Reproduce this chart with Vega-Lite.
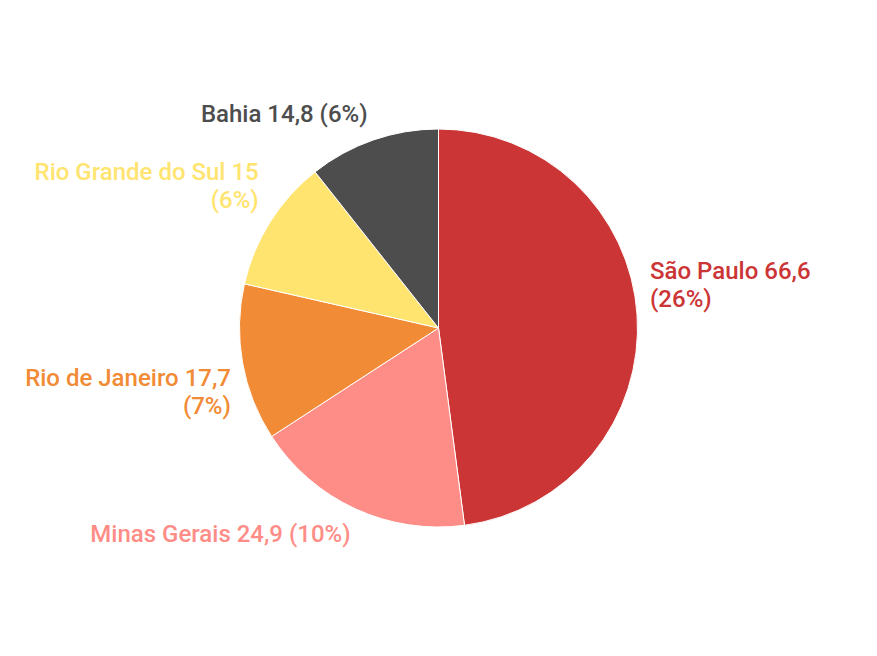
{
  "$schema": "https://vega.github.io/schema/vega-lite/v6.json",
  "width": 877,
  "height": 656,
  "autosize": {"type": "fit", "contains": "padding"},
  "padding": 0,
  "background": "white",
  "config": {"view": {"stroke": null}, "font": "Roboto", "text": {"fontSize": 24, "fontWeight": 500, "lineBreak": "\n", "lineHeight": 28, "baseline": "middle"}},
  "data": {
    "values": [
      {"estado": "São Paulo", "valor": 66.6, "ordem": 1, "rotulo": "São Paulo 66,6\n(26%)"},
      {"estado": "Minas Gerais", "valor": 24.9, "ordem": 2, "rotulo": "Minas Gerais 24,9 (10%)"},
      {"estado": "Rio de Janeiro", "valor": 17.7, "ordem": 3, "rotulo": "Rio de Janeiro 17,7\n(7%)"},
      {"estado": "Rio Grande do Sul", "valor": 15, "ordem": 4, "rotulo": "Rio Grande do Sul 15\n(6%)"},
      {"estado": "Bahia", "valor": 14.8, "ordem": 5, "rotulo": "Bahia 14,8 (6%)"}
    ]
  },
  "encoding": {
    "theta": {"field": "valor", "type": "quantitative", "stack": true},
    "order": {"field": "ordem", "type": "quantitative"},
    "color": {
      "field": "estado",
      "type": "nominal",
      "legend": null,
      "scale": {
        "domain": ["São Paulo", "Minas Gerais", "Rio de Janeiro", "Rio Grande do Sul", "Bahia"],
        "range": ["#CC3535", "#FF8D87", "#F28B35", "#FFE470", "#4D4D4D"]
      }
    }
  },
  "layer": [
    {"mark": {"type": "arc", "outerRadius": 199, "stroke": "white", "strokeWidth": 1}},
    {
      "mark": {"type": "text", "radius": 212, "align": "left", "dy": -42},
      "encoding": {"text": {"condition": {"test": "datum.estado === 'São Paulo'", "field": "rotulo"}, "value": ""}}
    },
    {
      "mark": {"type": "text", "radius": 222, "align": "right", "dx": 5, "dy": 5},
      "encoding": {"text": {"condition": {"test": "datum.estado === 'Minas Gerais'", "field": "rotulo"}, "value": ""}}
    },
    {
      "mark": {"type": "text", "radius": 222, "align": "right", "dx": 11, "dy": 12},
      "encoding": {"text": {"condition": {"test": "datum.estado === 'Rio de Janeiro'", "field": "rotulo"}, "value": ""}}
    },
    {
      "mark": {"type": "text", "radius": 222, "align": "right", "dx": 8, "dy": -37},
      "encoding": {"text": {"condition": {"test": "datum.estado === 'Rio Grande do Sul'", "field": "rotulo"}, "value": ""}}
    },
    {
      "mark": {"type": "text", "radius": 222, "align": "right", "dx": 2, "dy": -3},
      "encoding": {"text": {"condition": {"test": "datum.estado === 'Bahia'", "field": "rotulo"}, "value": ""}}
    }
  ]
}
